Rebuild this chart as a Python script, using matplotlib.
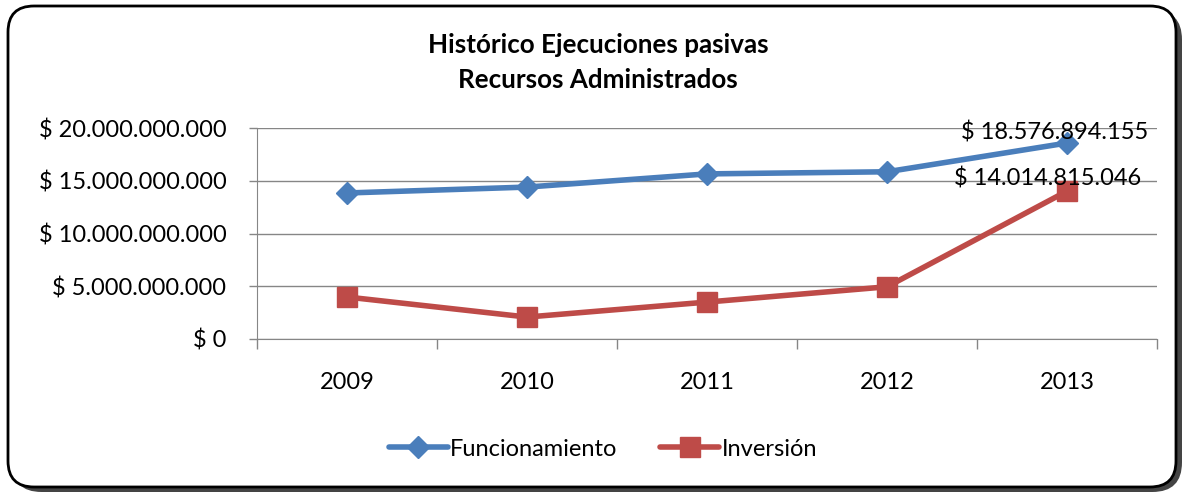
import matplotlib
matplotlib.use("Agg")
import matplotlib.pyplot as plt
from matplotlib.patches import FancyBboxPatch
from matplotlib.ticker import FuncFormatter, MultipleLocator

years = ["2009", "2010", "2011", "2012", "2013"]
funcionamiento = [13.84e9, 14.40e9, 15.65e9, 15.85e9, 18576894155]
inversion = [3.98e9, 2.08e9, 3.50e9, 4.95e9, 14014815046]
label_func = "$ 18.576.894.155"
label_inv = "$ 14.014.815.046"

plt.rcParams['font.family'] = ['Lato', 'DejaVu Sans']

W, H = 1184, 493
fig = plt.figure(figsize=(W/100, H/100), dpi=100)

# border with shadow
shadow = FancyBboxPatch((12/W, 1/H), 1170/W, 482/H, boxstyle="round,pad=0,rounding_size=0.025",
                        transform=fig.transFigure, facecolor="#444444", edgecolor="none",
                        mutation_aspect=W/H, zorder=0)
fig.patches.append(shadow)
box = FancyBboxPatch((8/W, 6/H), 1168/W, 481/H, boxstyle="round,pad=0,rounding_size=0.022",
                     transform=fig.transFigure, facecolor="white", edgecolor="black",
                     linewidth=2, mutation_aspect=W/H, zorder=1)
fig.patches.append(box)

ax = fig.add_axes([257/W, 1-339/H, 900/W, 211/H])
ax.set_zorder(2)
ax.patch.set_alpha(0)
x = list(range(len(years)))
ax.plot(x, funcionamiento, color="#4a7ebb", lw=4, marker="D", ms=11, label="Funcionamiento",
        solid_capstyle="round", zorder=3)
ax.plot(x, inversion, color="#be4b48", lw=4, marker="s", ms=14, label="Inversión",
        solid_capstyle="round", zorder=3)
ax.set_xlim(-0.5, len(years)-0.5)
ax.set_ylim(0, 20e9)
ax.yaxis.set_major_locator(MultipleLocator(5e9))
def fmt(v, p):
    if v == 0:
        return "$ 0"
    return "$ " + f"{int(round(v)):,}".replace(",", ".")
ax.yaxis.set_major_formatter(FuncFormatter(fmt))
ax.set_xticks(x)
ax.set_xticklabels(years)
ax.set_xticks([i+0.5 for i in range(-1, len(years))], minor=True)
ax.tick_params(axis="x", which="major", length=0, pad=24, labelsize=17)
ax.tick_params(axis="x", which="minor", length=7, width=1, color="#868686", direction="out")
ax.tick_params(axis="y", length=6, width=1, color="#868686", labelsize=17, pad=16)
ax.grid(axis="y", color="#868686", lw=1)
for s in ["top", "right"]:
    ax.spines[s].set_visible(False)
ax.spines["left"].set_color("#868686")
ax.spines["bottom"].set_color("#868686")
ax.set_axisbelow(True)

ax.annotate(label_func, (4, funcionamiento[4]), xytext=(-9, 0), textcoords="offset points",
            ha="center", va="bottom", fontsize=17)
ax.annotate(label_inv, (4, inversion[4]), xytext=(-14, 1), textcoords="offset points",
            ha="center", va="bottom", fontsize=17)

fig.text(598/W, 1-45/H, "Histórico Ejecuciones pasivas", ha="center", va="center",
         fontsize=18.7, fontweight="bold")
fig.text(598/W, 1-80/H, "Recursos Administrados", ha="center", va="center",
         fontsize=18.7, fontweight="bold")

leg = fig.legend(loc="center", bbox_to_anchor=(603/W, 1-449/H), ncol=2, frameon=False,
                 fontsize=17, handlelength=2.5, columnspacing=1.8, handletextpad=0.1)

fig.savefig("out.png", dpi=100)
